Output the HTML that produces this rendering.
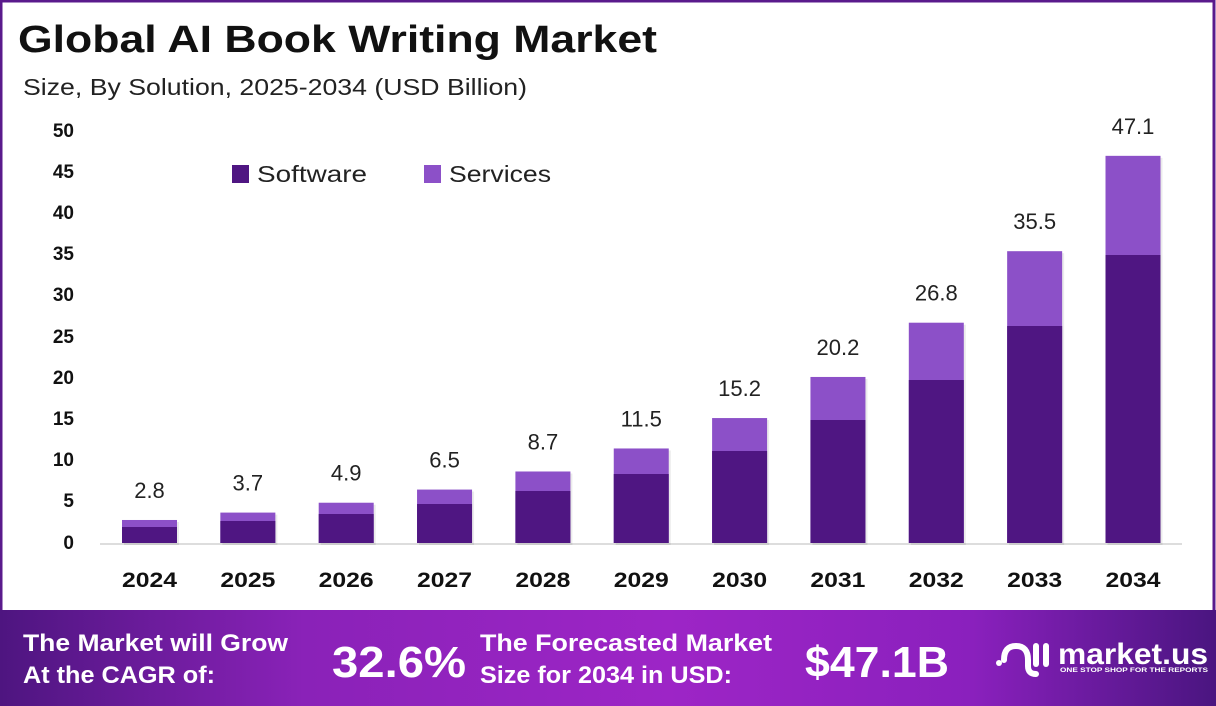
<!DOCTYPE html>
<html><head><meta charset="utf-8"><style>
html,body{margin:0;padding:0;background:#fff}
body{width:1216px;height:706px;overflow:hidden;position:relative;font-family:"Liberation Sans",sans-serif}
</style></head><body>
<svg width="1216" height="706" xmlns="http://www.w3.org/2000/svg" style="position:absolute;left:0;top:0">
<defs>
<linearGradient id="ft" x1="0" x2="1" y1="0" y2="0">
<stop offset="0" stop-color="#4e1580"/><stop offset="0.25" stop-color="#8a22b8"/>
<stop offset="0.55" stop-color="#9d25c6"/><stop offset="0.8" stop-color="#8a20bd"/><stop offset="1" stop-color="#4a1580"/>
</linearGradient>
</defs>
<rect x="1" y="1" width="1213" height="704" fill="#fff" stroke="#5a1a8c" stroke-width="3"/>
<text x="18" y="52" font-size="38" font-weight="bold" fill="#111" textLength="639" lengthAdjust="spacingAndGlyphs">Global AI Book Writing Market</text>
<text x="23" y="95" font-size="23" fill="#222" textLength="504" lengthAdjust="spacingAndGlyphs">Size, By Solution, 2025-2034 (USD Billion)</text>
<g font-size="19" font-weight="bold" fill="#111" text-anchor="end">
<text x="74" y="137">50</text><text x="74" y="178">45</text><text x="74" y="219">40</text><text x="74" y="260">35</text><text x="74" y="301">30</text><text x="74" y="343">25</text><text x="74" y="384">20</text><text x="74" y="425">15</text><text x="74" y="466">10</text><text x="74" y="507">5</text><text x="74" y="549">0</text>
</g>
<rect x="232" y="165" width="17" height="18" fill="#4f1682"/>
<text x="257" y="182" font-size="23" fill="#222" textLength="110" lengthAdjust="spacingAndGlyphs">Software</text>
<rect x="424" y="165" width="17" height="18" fill="#8c50c8"/>
<text x="449" y="182" font-size="23" fill="#222" textLength="102" lengthAdjust="spacingAndGlyphs">Services</text>
<line x1="100" y1="544" x2="1182" y2="544" stroke="#ddd" stroke-width="2"/>
<g id="bars"></g>
<g id="yrs" font-size="21" font-weight="bold" fill="#111" text-anchor="middle"></g>
<rect x="0" y="610" width="1216" height="96" fill="url(#ft)"/>
<g fill="#fff" font-weight="bold">
<text x="23" y="651" font-size="24" textLength="265" lengthAdjust="spacingAndGlyphs">The Market will Grow</text>
<text x="23" y="683" font-size="24" textLength="192" lengthAdjust="spacingAndGlyphs">At the CAGR of:</text>
<text x="332" y="677" font-size="44" textLength="134" lengthAdjust="spacingAndGlyphs">32.6%</text>
<text x="480" y="651" font-size="24" textLength="292" lengthAdjust="spacingAndGlyphs">The Forecasted Market</text>
<text x="480" y="683" font-size="24" textLength="252" lengthAdjust="spacingAndGlyphs">Size for 2034 in USD:</text>
<text x="805" y="677" font-size="44" textLength="144" lengthAdjust="spacingAndGlyphs">$47.1B</text>
<text x="1058" y="664" font-size="30" textLength="150" lengthAdjust="spacingAndGlyphs">market.us</text>
<text x="1060" y="672" font-size="6.5" textLength="148" lengthAdjust="spacingAndGlyphs">ONE STOP SHOP FOR THE REPORTS</text>
</g>
<g fill="none" stroke="#fff" stroke-width="6" stroke-linecap="round">
<path d="M1004 660 q0-14 12-14 q12 0 12 14 v6 q0 8 8 8"/>
<path d="M1036 646 v18"/><path d="M1046 646 v18"/>
</g>
<circle cx="999" cy="663" r="3" fill="#fff"/>
</svg>
<script>
(function(){
var tot=[2.8,3.7,4.9,6.5,8.7,11.5,15.2,20.2,26.8,35.5,47.1];
var sw=[527,521,514,504,491,474,451,420,380,326,255];
var h='',y='';
for(var i=0;i<11;i++){var cx=149.5+i*98.35,tp=543-tot[i]*8.22,x=cx-27.5;
h+='<rect x="'+(x+2)+'" y="'+(tp+2)+'" width="55" height="'+(543-tp)+'" fill="#000" opacity="0.08"/>';
h+='<rect x="'+x+'" y="'+tp+'" width="55" height="'+(543-tp)+'" fill="#8c50c8"/>';
h+='<rect x="'+x+'" y="'+sw[i]+'" width="55" height="'+(543-sw[i])+'" fill="#4f1682"/>';
h+='<text x="'+cx+'" y="'+(tp-22)+'" font-size="22" fill="#222" text-anchor="middle">'+tot[i]+'</text>';
y+='<text x="'+cx+'" y="587" textLength="55" lengthAdjust="spacingAndGlyphs">'+(2024+i)+'</text>';}
document.getElementById('bars').innerHTML=h;
document.getElementById('yrs').innerHTML=y;
})();
</script>
</body></html>
